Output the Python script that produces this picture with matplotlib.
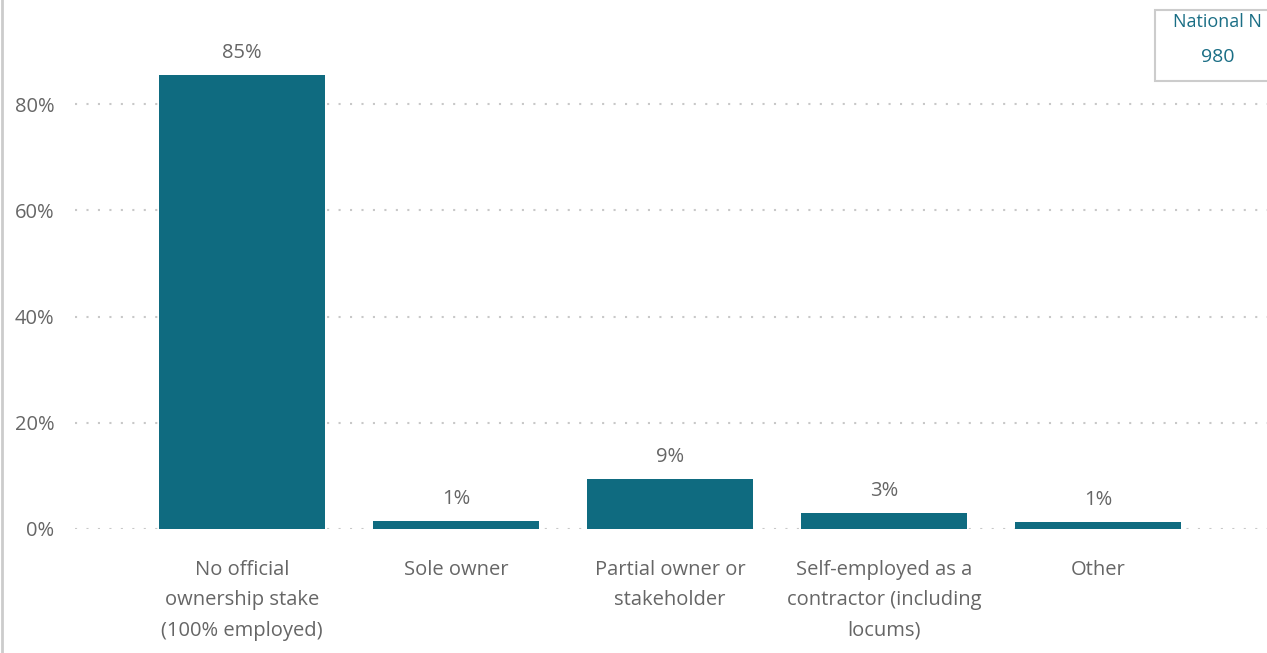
import matplotlib
matplotlib.use("Agg")
import matplotlib.pyplot as plt
from matplotlib.patches import Rectangle
from matplotlib.lines import Line2D

categories = ["No official\nownership stake\n(100% employed)", "Sole owner",
              "Partial owner or\nstakeholder", "Self-employed as a\ncontractor (including\nlocums)", "Other"]
values = [85.5, 1.5, 9.4, 3.0, 1.3]
value_labels = ["85%", "1%", "9%", "3%", "1%"]
yticks = [0, 20, 40, 60, 80]
ytick_labels = ["0%", "20%", "40%", "60%", "80%"]
n_label = "National N"
n_value = "980"

plt.rcParams['font.family'] = ['Open Sans', 'DejaVu Sans']
W, H = 1267, 653
fig = plt.figure(figsize=(W/100, H/100), dpi=100)
# axes: x from 75 to 1267 px, y bottom 529 px, top 0 px
ax = fig.add_axes([75/W, (H-529)/H, (W-75)/W, 529/H])
bar_color = "#0f6b80"
text_color = "#666666"
x = list(range(len(categories)))
ax.bar(x, values, width=0.775, color=bar_color, zorder=3)
ax.set_xlim(-0.78, 4.79)
ax.set_ylim(0, 529/5.3125)
for xi, v, lab in zip(x, values, value_labels):
    ax.text(xi, v + 2.3, lab, ha='center', va='bottom', fontsize=14.5, color=text_color, clip_on=False)
ax.set_yticks(yticks)
ax.set_yticklabels(ytick_labels, fontsize=14.5, color=text_color)
ax.set_xticks(x)
ax.set_xticklabels(categories, fontsize=14.5, color=text_color, linespacing=1.7, va='top')
ax.tick_params(axis='both', length=0)
ax.tick_params(axis='y', pad=15)
ax.tick_params(axis='x', pad=22)
for s in ax.spines.values():
    s.set_visible(False)
ax.grid(axis='y', color='#c8c8c8', linestyle=(0, (1, 4.5)), linewidth=1.5, zorder=0)
ax.set_axisbelow(True)

# left border line
fig.add_artist(Line2D([1.5/W, 1.5/W], [0, 1], color='#cccccc', linewidth=2, transform=fig.transFigure))
# National N box
fig.add_artist(Rectangle((1155/W, (H-81)/H), (W-1155+5)/W, 71/H, transform=fig.transFigure,
                         facecolor='white', edgecolor='#cccccc', linewidth=1.5))
fig.text(1217/W, (H-22)/H, n_label, ha='center', va='center', fontsize=13, color='#1a6e85')
fig.text(1218/W, (H-57)/H, n_value, ha='center', va='center', fontsize=14, color='#1a6e85')

fig.savefig("out.png", dpi=100)
